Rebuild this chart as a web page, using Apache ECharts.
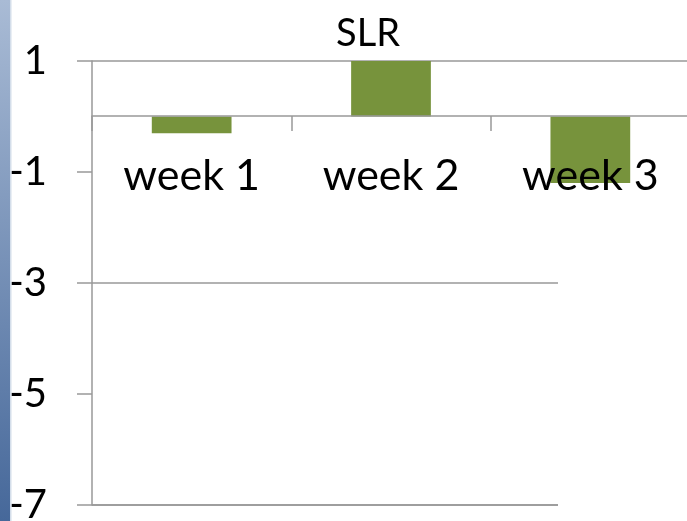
<!DOCTYPE html>
<html>
<head>
<meta charset="utf-8">
<script src="https://cdn.jsdelivr.net/npm/echarts@6/dist/echarts.min.js"></script>
<style>
  html, body { margin: 0; padding: 0; background: #fff; }
  #chart { width: 687px; height: 521px; }
</style>
</head>
<body>
<div id="chart"></div>
<script>
// data
var categories = ['week 1', 'week 2', 'week 3'];
var slrValues = [-0.3, 1.0, -1.2];
var yTicks = [-7, -5, -3, -1, 1];
var yMin = -7;

var chart = echarts.init(document.getElementById('chart'));
var font = 'Lato, "Open Sans", sans-serif';
var gridGray = '#999';

var option = {
  animation: false,
  title: {
    text: 'SLR',
    left: 363,
    top: 10,
    textAlign: 'center',
    textStyle: { fontFamily: font, fontSize: 38, fontWeight: 'normal', color: '#000' }
  },
  grid: { left: 92, right: -3, top: 61, bottom: 16, outerBoundsMode: 'none', containLabel: false },
  xAxis: {
    type: 'category',
    data: categories,
    // axis sits on the zero line (y=116), moved up from the grid bottom
    offset: -389,
    axisLine: { onZero: false, lineStyle: { color: gridGray, width: 1.5 } },
    axisTick: { show: true, length: 15, lineStyle: { color: gridGray, width: 1.5 } },
    axisLabel: { margin: 39, fontFamily: font, fontSize: 43, color: '#000' },
    z: 5
  },
  yAxis: {
    type: 'value',
    min: yMin,
    max: 1,
    interval: 1,
    axisLine: { show: true, lineStyle: { color: gridGray, width: 1.5 } },
    axisTick: { show: true, length: 15, customValues: yTicks, lineStyle: { color: gridGray, width: 1.5 } },
    axisLabel: { margin: 45, customValues: yTicks, fontFamily: font, fontSize: 40, color: '#000' },
    splitLine: { show: true, lineStyle: { color: [gridGray, 'rgba(0,0,0,0)'], width: 1.5 } }
  },
  series: [{
    name: 'SLR',
    type: 'bar',
    data: slrValues,
    barWidth: '40%',
    itemStyle: { color: '#77933c' },
    // bottom gridline at the axis minimum
    markLine: {
      silent: true,
      symbol: 'none',
      label: { show: false },
      lineStyle: { color: gridGray, width: 1.5, type: 'solid' },
      data: [{ yAxis: yMin }]
    }
  }],
  graphic: [
    {
      type: 'rect',
      left: 0, top: 0, z: 100,
      shape: { width: 10, height: 521 },
      style: {
        fill: new echarts.graphic.LinearGradient(0, 0, 0, 1, [
          { offset: 0, color: '#a9bbd5' },
          { offset: 1, color: '#46689a' }
        ])
      }
    },
    {
      type: 'rect',
      left: 10, top: 0, z: 100,
      shape: { width: 1.5, height: 521 },
      style: { fill: '#d4deea' }
    },
    {
      type: 'rect',
      left: 558, top: 198, z: 100,
      shape: { width: 140, height: 330 },
      style: { fill: '#fff' }
    }
  ]
};
chart.setOption(option);
</script>
</body>
</html>
